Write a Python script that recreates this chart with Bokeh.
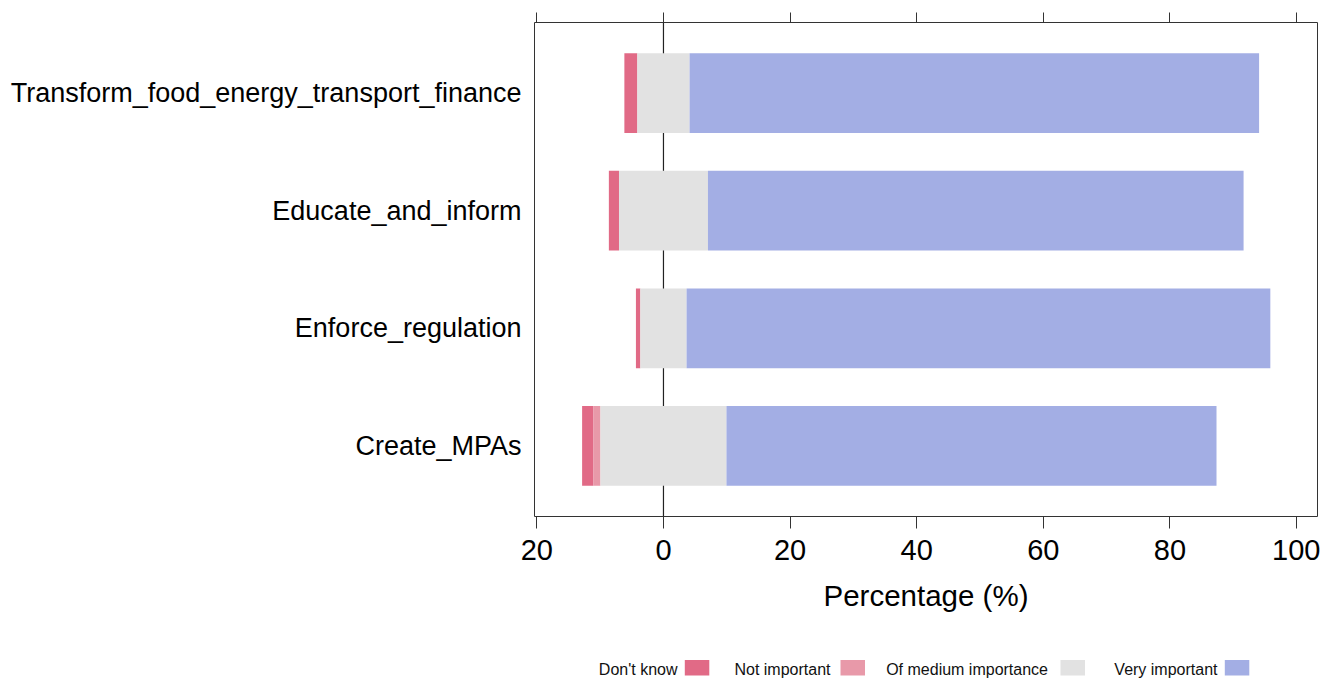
import numpy as np
from bokeh.plotting import figure
from bokeh.models import Range1d, FixedTicker, LinearAxis, Span
from bokeh.layouts import column
from bokeh.embed import file_html
from bokeh.resources import INLINE
from bokeh.core.properties import value

# ---------------- data ----------------
categories = ["Transform_food_energy_transport_finance", "Educate_and_inform",
              "Enforce_regulation", "Create_MPAs"]
dont_know = [2.05, 1.6, 0.7, 1.8]
not_important = [0.0, 0.0, 0.0, 1.1]
medium = [8.25, 14.05, 7.3, 19.9]
very_important = [89.95, 84.6, 92.2, 77.4]
levels = ["Don't know", "Not important", "Of medium importance", "Very important"]
colors = ["#E16A86", "#E899A9", "#E2E2E2", "#A3AEE4"]
x_ticks = [-20, 0, 20, 40, 60, 80, 100]
x_tick_labels = ["20", "0", "20", "40", "60", "80", "100"]

FONT = "Liberation Sans"

n = len(categories)
ys = [float(n - i) for i in range(n)]
dk = np.array(dont_know)
ni = np.array(not_important)
md = np.array(medium)
vi = np.array(very_important)

# diverging stacks
med_left, med_right = -md / 2, md / 2
ni_right = med_left
ni_left = ni_right - ni
dk_right = ni_left
dk_left = dk_right - dk
vi_left = med_right
vi_right = vi_left + vi

W = 1320
BL, BR = 534, 3
H1, H2 = 624, 56

p = figure(width=W, height=H1,
           x_range=Range1d(-20.37, 103.3), y_range=Range1d(0.4, 4.6),
           output_backend="svg", toolbar_location=None,
           min_border_left=BL, min_border_right=BR,
           min_border_top=22, min_border_bottom=108)
p.grid.visible = False
p.outline_line_color = "#333333"
p.outline_line_width = 1
p.background_fill_color = "white"
p.border_fill_color = "white"

p.add_layout(Span(location=0, dimension="height", line_color="#222222",
                  line_width=1.2, level="underlay"))

bh = 0.678
p.hbar(y=ys, left=dk_left, right=dk_right, height=bh, fill_color=colors[0], line_color=None)
p.hbar(y=ys, left=ni_left, right=ni_right, height=bh, fill_color=colors[1], line_color=None)
p.hbar(y=ys, left=med_left, right=med_right, height=bh, fill_color=colors[2], line_color=None)
p.hbar(y=ys, left=vi_left, right=vi_right, height=bh, fill_color=colors[3], line_color=None)

# bottom axis
xa = p.xaxis[0]
xa.ticker = FixedTicker(ticks=x_ticks)
xa.major_label_overrides = {t: l for t, l in zip(x_ticks, x_tick_labels)}
xa.major_tick_out = 12
xa.major_tick_in = 0
xa.minor_tick_line_color = None
xa.axis_line_color = None
xa.major_tick_line_color = "#333333"
xa.major_label_text_font = FONT
xa.major_label_text_font_size = "29px"
xa.major_label_text_color = "black"
xa.major_label_standoff = 11
xa.axis_label = "Percentage (%)"
xa.axis_label_text_font = FONT
xa.axis_label_text_font_size = "29.5px"
xa.axis_label_text_font_style = "normal"
xa.axis_label_text_color = "black"
xa.axis_label_standoff = 16

# top axis (ticks only, labels not drawn)
ta = LinearAxis(ticker=FixedTicker(ticks=x_ticks))
ta.major_label_text_font_size = "1px"
ta.major_label_text_color = None
ta.major_label_standoff = 0
ta.major_tick_out = 10
ta.major_tick_in = 0
ta.minor_tick_line_color = None
ta.axis_line_color = None
ta.major_tick_line_color = "#333333"
p.add_layout(ta, "above")

# left axis (category labels)
ya = p.yaxis[0]
ya.ticker = FixedTicker(ticks=ys)
ya.major_label_overrides = {y: c for y, c in zip(ys, categories)}
ya.major_tick_out = 0
ya.major_tick_in = 0
ya.minor_tick_line_color = None
ya.axis_line_color = None
ya.major_label_text_font = FONT
ya.major_label_text_font_size = "27px"
ya.major_label_text_color = "black"
ya.major_label_standoff = 13

# ---------------- legend (text left of swatch), page-pixel layout ----------------
legend_text_right = [677.0, 830.0, 1047.5, 1217.0]
legend_swatch_left = [684.3, 840.0, 1060.0, 1224.3]
swatch_w = 24.5
swatch_top, swatch_bottom = 659.5, 675.0
text_mid = 668.5

leg = figure(width=W, height=H2,
             x_range=Range1d(BL, W - BR), y_range=Range1d(H1 + H2, H1),
             output_backend="svg", toolbar_location=None,
             x_axis_type=None, y_axis_type=None,
             min_border_left=BL, min_border_right=BR,
             min_border_top=0, min_border_bottom=0)
leg.outline_line_color = None
leg.grid.visible = False
leg.quad(left=legend_swatch_left, right=[s + swatch_w for s in legend_swatch_left],
         top=swatch_top, bottom=swatch_bottom, fill_color=colors, line_color=None)
leg.text(x=legend_text_right, y=[text_mid] * len(levels), text=levels,
         text_align="right", text_baseline="middle",
         text_font=value(FONT), text_font_size="16px", text_color="#111111")

layout = column(p, leg, spacing=0)
open("out.html", "w").write(file_html(layout, INLINE))
